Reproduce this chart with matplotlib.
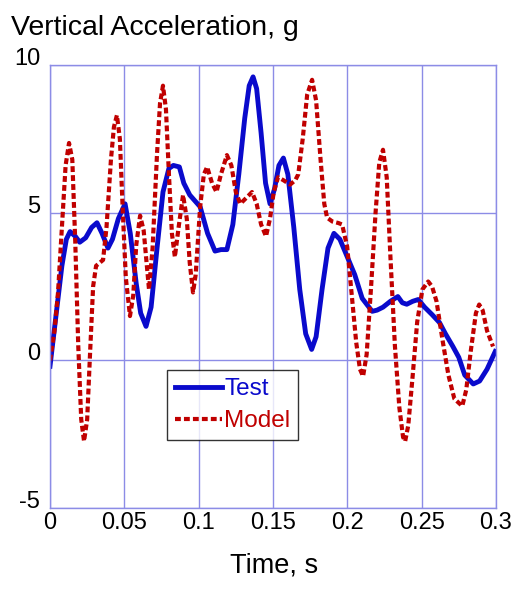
import numpy as np
import matplotlib as mpl
import matplotlib.pyplot as plt

# values
test_t = [0, 0.004, 0.008, 0.011, 0.0135, 0.017, 0.020, 0.024, 0.028, 0.0316,
          0.035, 0.039, 0.042, 0.046, 0.0505, 0.054, 0.058, 0.061, 0.0646, 0.068,
          0.072, 0.076, 0.080, 0.083, 0.087, 0.090, 0.094, 0.101, 0.106, 0.111,
          0.115, 0.119, 0.123, 0.127, 0.131, 0.134, 0.1366, 0.139, 0.142, 0.145,
          0.148, 0.151, 0.154, 0.157, 0.160, 0.164, 0.168, 0.172, 0.176, 0.179,
          0.183, 0.187, 0.191, 0.195, 0.200, 0.205, 0.210, 0.2167, 0.220, 0.224,
          0.229, 0.234, 0.237, 0.240, 0.244, 0.2477, 0.252, 0.257, 0.262, 0.266,
          0.271, 0.275, 0.279, 0.2847, 0.289, 0.294, 0.2995]
test_g = [-0.2, 1.5, 3.2, 4.1, 4.36, 4.2, 4.0, 4.15, 4.5, 4.66,
          4.3, 3.8, 4.1, 4.8, 5.3, 4.3, 2.6, 1.6, 1.15, 1.8,
          3.8, 5.7, 6.5, 6.6, 6.55, 6.0, 5.6, 5.2, 4.3, 3.7,
          3.75, 3.75, 4.6, 6.3, 8.2, 9.3, 9.6, 9.2, 7.7, 6.0,
          5.3, 5.8, 6.6, 6.85, 6.3, 4.5, 2.4, 0.9, 0.37, 0.8,
          2.4, 3.8, 4.3, 4.1, 3.5, 2.9, 2.1, 1.66, 1.7, 1.8,
          2.0, 2.16, 1.95, 1.9, 2.0, 2.06, 1.8, 1.55, 1.28, 0.9,
          0.47, 0.1, -0.5, -0.8, -0.7, -0.3, 0.3]

model_t = [0, 0.003, 0.0054, 0.008, 0.0105, 0.0128, 0.015, 0.017, 0.019, 0.021,
           0.0229, 0.025, 0.027, 0.029, 0.031, 0.0357, 0.038, 0.041, 0.043, 0.045,
           0.047, 0.049, 0.051, 0.0538, 0.056, 0.058, 0.0606, 0.063, 0.0666, 0.069,
           0.072, 0.074, 0.076, 0.078, 0.080, 0.082, 0.084, 0.0865, 0.0895, 0.092,
           0.094, 0.0962, 0.098, 0.101, 0.1035, 0.1057, 0.109, 0.112, 0.115, 0.119,
           0.122, 0.125, 0.128, 0.132, 0.1359, 0.139, 0.142, 0.1453, 0.148, 0.1505,
           0.1534, 0.157, 0.1615, 0.165, 0.167, 0.170, 0.173, 0.1763, 0.179, 0.182,
           0.1845, 0.1864, 0.190, 0.194, 0.1965, 0.1999, 0.203, 0.206, 0.2085, 0.2106,
           0.213, 0.216, 0.219, 0.2215, 0.224, 0.2265, 0.229, 0.232, 0.235, 0.2375,
           0.2389, 0.241, 0.244, 0.247, 0.2505, 0.2544, 0.257, 0.260, 0.264, 0.268,
           0.272, 0.2773, 0.280, 0.283, 0.2865, 0.2887, 0.291, 0.294, 0.298]
model_g = [0, 1.0, 2.3, 4.5, 6.6, 7.36, 6.8, 4.0, 0.5, -2.0,
           -2.74, -2.0, 0.3, 2.5, 3.2, 3.4, 4.5, 6.8, 7.9, 8.3,
           7.5, 5.0, 2.8, 1.5, 2.2, 3.9, 4.9, 4.4, 2.4, 3.8,
           7.0, 8.7, 9.3, 8.5, 6.3, 4.3, 3.5, 4.5, 5.6, 4.8,
           3.3, 2.3, 2.9, 5.2, 6.3, 6.55, 6.0, 5.7, 6.3, 6.95,
           6.6, 5.7, 5.3, 5.5, 5.7, 5.3, 4.6, 4.2, 4.8, 5.7,
           6.2, 6.1, 5.95, 6.1, 6.3, 7.5, 9.0, 9.5, 8.8, 6.8,
           5.3, 4.83, 4.7, 4.65, 4.6, 3.85, 2.2, 0.6, -0.3, -0.54,
           0.2, 2.5, 5.0, 6.7, 7.13, 6.2, 3.5, 0.5, -1.6, -2.6,
           -2.74, -2.2, -0.5, 1.3, 2.4, 2.67, 2.5, 2.0, 0.7, -0.5,
           -1.3, -1.55, -1.0, 0.3, 1.6, 1.89, 1.7, 1.0, 0.47]

x_ticks = [0, 0.05, 0.1, 0.15, 0.2, 0.25, 0.3]
x_ticklabels = ["0", "0.05", "0.1", "0.15", "0.2", "0.25", "0.3"]
y_ticks = [-5, 0, 5, 10]


def plot_main():
    mpl.rcParams["font.family"] = ["Liberation Sans", "DejaVu Sans"]
    mpl.rcParams["axes.unicode_minus"] = False
    grid_col = "#8c8ce6"
    blue = "#0a0acc"
    red = "#c00000"

    fig = plt.figure(figsize=(5.16, 5.89), dpi=100)
    ax = fig.add_axes([0.0969, 0.1375, 0.8643, 0.7521])

    ax.plot(test_t, test_g, "-", color=blue, lw=3.5,
            solid_joinstyle="round", label="Test")
    ax.plot(model_t, model_g, color=red, lw=3.0,
            linestyle=(0, (1.4, 0.75)), label="Model")

    ax.set_xlim(0, 0.3)
    ax.set_ylim(-5, 10)
    ax.set_xticks(x_ticks)
    ax.set_xticklabels(x_ticklabels)
    ax.set_yticks(y_ticks)
    ax.tick_params(length=0, labelsize=17, pad=3)
    ax.tick_params(axis="y", pad=7)
    for lab in ax.get_yticklabels():
        lab.set_verticalalignment("baseline")
    ax.grid(True, color=grid_col, lw=1.0)
    for sp in ax.spines.values():
        sp.set_color(grid_col)
        sp.set_linewidth(1.0)

    leg = ax.legend(loc="upper left", bbox_to_anchor=(0.262, 0.3115),
                    fontsize=17.5, frameon=True, fancybox=False,
                    handlelength=1.95, handletextpad=0.08,
                    borderpad=0.33, labelspacing=0.42, borderaxespad=0)
    leg.get_frame().set_edgecolor("black")
    leg.get_frame().set_linewidth(1.0)
    leg.get_texts()[0].set_color(blue)
    leg.get_texts()[1].set_color(red)

    fig.text(0.021, 0.9406, "Vertical Acceleration, g", fontsize=20.5,
             ha="left", va="baseline")
    fig.text(0.531, 0.0407, "Time, s", fontsize=19.5, ha="center",
             va="center")
    fig.savefig("out.png", dpi=100)


if __name__ == '__main__':
    plot_main()
